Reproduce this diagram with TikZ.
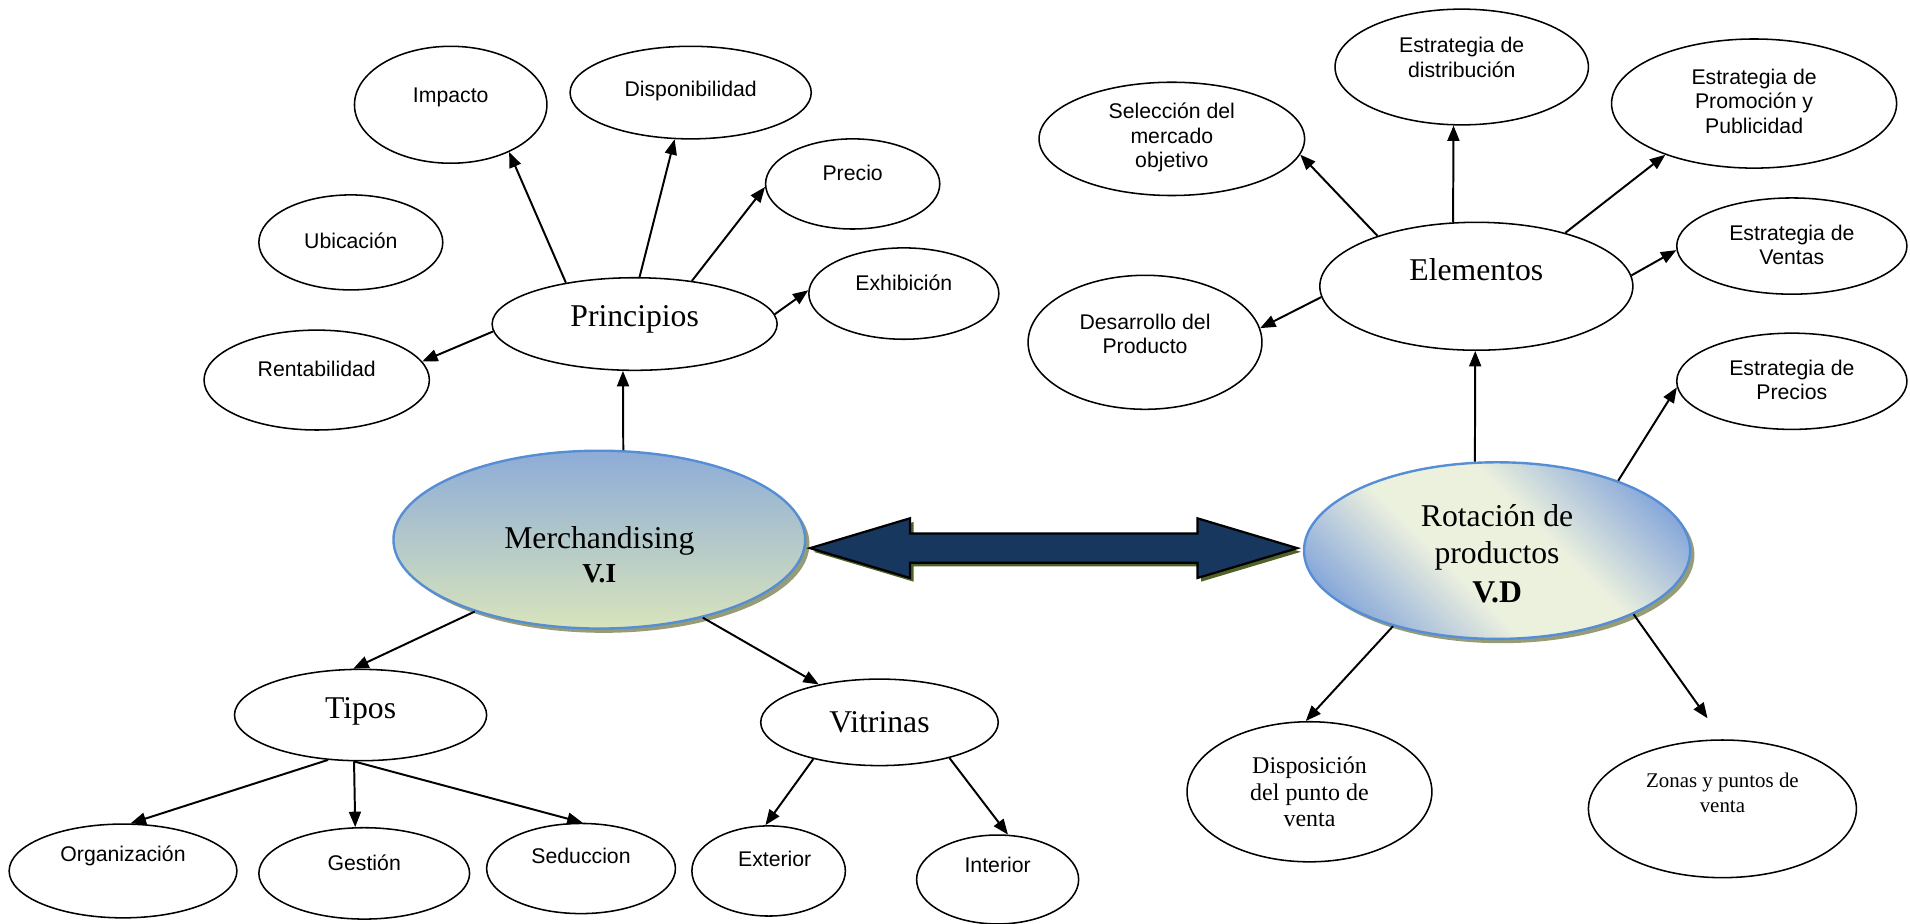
\documentclass[tikz,border=0pt]{standalone}
\usepackage{fontspec}
\setmainfont{Liberation Serif}
\setsansfont{Liberation Sans}
\usetikzlibrary{shapes.geometric,arrows.meta,shadows}

\definecolor{vblue}{RGB}{85,142,213}
\definecolor{mtop}{RGB}{141,172,215}
\definecolor{mbot}{RGB}{216,228,188}
\definecolor{rblue}{RGB}{128,162,218}
\definecolor{rlight}{RGB}{236,241,222}
\definecolor{shadowol}{RGB}{150,156,118}
\definecolor{navy}{RGB}{23,55,94}
\definecolor{oliveshadow}{RGB}{79,98,40}

% diagonal band shading for the dependent-variable bubble
\pgfdeclareverticalshading{rotshade}{100bp}{color(0bp)=(rblue); color(22bp)=(rblue); color(42bp)=(rlight); color(58bp)=(rlight); color(78bp)=(rblue); color(100bp)=(rblue)}

\newlength\pxu
\setlength\pxu{0.025cm}

\tikzset{
  bub/.style={draw, ellipse, line width=0.9pt, inner sep=0pt},
  ew/.style={minimum width=#1*\pxu},
  eh/.style={minimum height=#1*\pxu},
  sans/.style={font=\sffamily\fontsize{12.4}{14.2}\selectfont, align=center, inner sep=0pt},
  big/.style={font=\fontsize{18.5}{21.3}\selectfont, align=center, inner sep=0pt},
  bigbold/.style={font=\bfseries\fontsize{18.5}{21.3}\selectfont, align=center, inner sep=0pt},
  mid/.style={font=\fontsize{14}{15.6}\selectfont, align=center, inner sep=0pt},
  small/.style={font=\fontsize{12.2}{14.2}\selectfont, align=center, inner sep=0pt},
  arr/.style={line width=1.15pt, -{Triangle[length=9pt,width=7pt]}},
  mainbub/.style={draw=vblue, line width=1.4pt},
  olshadow/.style={general shadow={fill=shadowol, shadow xshift=2.5pt, shadow yshift=-2.5pt}},
}

\begin{document}
\begin{tikzpicture}[x=0.025cm, y=-0.025cm]
\useasboundingbox (0,0) rectangle (1568,758);

% ---------- independent variable ----------
\node[bub, ew=338, eh=146, mainbub, olshadow, top color=mtop, bottom color=mbot] (merch) at (492,443) {};
\node[big] (merch-t) at (492,444) {Merchandising};
\node[font=\bfseries\fontsize{16}{18}\selectfont, inner sep=0pt] (merch-v) at (492,471) {V.I};

% principles
\node[bub, ew=234, eh=76] (princ) at (521,266) {};
\node[big] (princ-t) at (521,262) {Principios};
\node[bub, ew=158, eh=96] (imp) at (370,86) {};
\node[sans] (imp-t) at (370,80) {Impacto};
\node[bub, ew=198, eh=76] (disp) at (567,76) {};
\node[sans] (disp-t) at (567,75) {Disponibilidad};
\node[bub, ew=143, eh=74] (prec) at (700,151) {};
\node[sans] (prec-t) at (700,142) {Precio};
\node[bub, ew=151, eh=78] (ubic) at (288,199) {};
\node[sans] (ubic-t) at (288,198) {Ubicación};
\node[bub, ew=156, eh=75] (exhib) at (742,241) {};
\node[sans] (exhib-t) at (742,232) {Exhibición};
\node[bub, ew=185, eh=82] (rent) at (260,312) {};
\node[sans] (rent-t) at (260,303) {Rentabilidad};

% types and shop windows
\node[bub, ew=207, eh=75] (tipos) at (296,587) {};
\node[big] (tipos-t) at (296,584) {Tipos};
\node[bub, ew=195, eh=71] (vitr) at (722,593) {};
\node[big] (vitr-t) at (722,593) {Vitrinas};
\node[bub, ew=187, eh=77] (org) at (101,715) {};
\node[sans] (org-t) at (101,703) {Organización};
\node[bub, ew=173, eh=75] (gest) at (299,717) {};
\node[sans] (gest-t) at (299,708) {Gestión};
\node[bub, ew=155, eh=74] (sedu) at (477,713) {};
\node[sans] (sedu-t) at (477,703) {Seduccion};
\node[bub, ew=126, eh=74] (ext) at (631,715) {};
\node[sans] (ext-t) at (636,705) {Exterior};
\node[bub, ew=133, eh=73] (inte) at (819,722) {};
\node[sans] (inte-t) at (819,710) {Interior};

% ---------- dependent variable ----------
\node[bub, ew=317, eh=145, mainbub, olshadow, shade, shading=rotshade, shading angle=-45] (rot) at (1229,452) {};
\node[big] (rot-t) at (1229,441) {Rotación de\\productos};
\node[bigbold] (rot-v) at (1229,486) {V.D};

\node[bub, ew=257, eh=105] (elem) at (1212,235) {};
\node[big] (elem-t) at (1212,221) {Elementos};
\node[bub, ew=218, eh=93] (sel) at (962,114) {};
\node[sans] (sel-t) at (962,113) {Selección del\\mercado\\objetivo};
\node[bub, ew=208, eh=95] (dist) at (1200,55) {};
\node[sans] (dist-t) at (1200,47) {Estrategia de\\distribución};
\node[bub, ew=234, eh=106] (prom) at (1440,85) {};
\node[sans] (prom-t) at (1440,83) {Estrategia de\\Promoción y\\Publicidad};
\node[bub, ew=189, eh=79] (vent) at (1471,202) {};
\node[sans] (vent-t) at (1471,201) {Estrategia de\\Ventas};
\node[bub, ew=192, eh=110] (desa) at (940,281) {};
\node[sans] (desa-t) at (940,274) {Desarrollo del\\Producto};
\node[bub, ew=189, eh=79] (preci) at (1471,313) {};
\node[sans] (preci-t) at (1471,312) {Estrategia de\\Precios};
\node[bub, ew=201, eh=115] (dispo) at (1075,650) {};
\node[mid] (dispo-t) at (1075,650) {Disposición\\del punto de\\venta};
\node[bub, ew=220, eh=113] (zonas) at (1414,664) {};
\node[small] (zonas-t) at (1414,651) {Zonas y puntos de\\venta};

% ---------- block arrow linking both variables ----------
\fill[oliveshadow, shift={(3,3)}] (665,450) -- (747,425.5) -- (747,438) -- (983,438) -- (983,425.5)
  -- (1065,450) -- (983,474.5) -- (983,462) -- (747,462) -- (747,474.5) -- cycle;
\draw[fill=navy, line width=1.3pt, line join=miter] (665,450) -- (747,425.5) -- (747,438) -- (983,438) -- (983,425.5)
  -- (1065,450) -- (983,474.5) -- (983,462) -- (747,462) -- (747,474.5) -- cycle;

% ---------- connectors ----------
\draw[arr] (merch.75) -- (princ.256);
\draw[arr] (princ.183) -- (rent.10);
\draw[arr] (princ.149) -- (imp.-39);
\draw[arr] (princ.84) -- (disp.251);
\draw[arr] (princ.37) -- (prec.182);
\draw[arr] (princ.4) -- (exhib.178);
\draw[arr] (merch.210) -- (tipos.99);
\draw[arr] (merch.-37) -- (vitr.148);
\draw[arr] (tipos.234) -- (org.81);
\draw[arr] (tipos.262) -- (gest.101);
\draw[arr] (tipos.262) -- (sedu.88);
\draw[arr] (vitr.209) -- (ext.94);
\draw[arr] (vitr.-27) -- (inte.77);

\draw[arr] (rot.104) -- (elem.269);
\draw[arr] (elem.153) -- (sel.-7);
\draw[arr] (elem.110) -- (dist.262);
\draw[arr] (elem.31) -- (prom.210);
\draw[arr] (elem.4) -- (vent.182);
\draw[arr] (elem.184) -- (desa.7);
\draw[arr] (rot.30) -- (preci.183);
\draw[arr] (rot.216) -- (dispo.93);
\draw[arr, shorten >=15pt] (rot.-25) -- (zonas.north);
\end{tikzpicture}
\end{document}
